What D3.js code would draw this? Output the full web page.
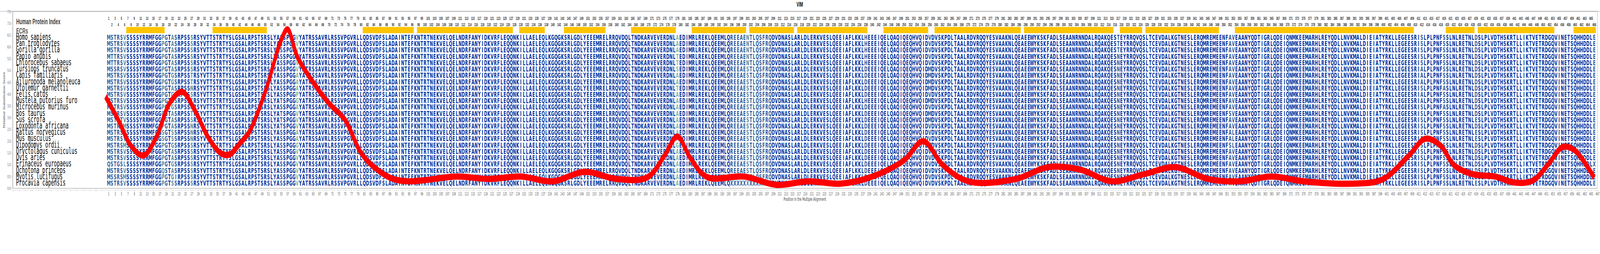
<!DOCTYPE html>
<html><head><meta charset="utf-8">
<script src="https://cdn.jsdelivr.net/npm/d3@7"></script>
<style>html,body{margin:0;padding:0;width:100%;height:100%;background:#fff;overflow:hidden}svg{display:block;width:100vw;height:100vh}</style>
</head><body>
<svg id="chart" viewBox="0 0 7588 650" preserveAspectRatio="none"></svg>
<script>
var species = ["Homo sapiens","Pan troglodytes","Gorilla gorilla","Papio anubis","Chlorocebus sabaeus",
  "Tursiops truncatus","Canis familiaris","Ailuropoda melanoleuca","Otolemur garnettii","Felis catus",
  "Mustela putorius furo","Microcebus murinus","Bos taurus","Sus scrofa","Loxodonta africana",
  "Rattus norvegicus","Mus musculus","Dipodomys ordii","Oryctolagus cuniculus","Ovis aries",
  "Erinaceus europaeus","Ochotona princeps","Myotis lucifugus","Procavia capensis"];

var human = "MSTRSVSSSSYRRMFGGPGTASRPSSSRSYVTTSTRTYSLGSALRPSTSRSLYASSPGGVYATRSSAVRL" +
  "RSSVPGVRLLQDSVDFSLADAINTEFKNTRTNEKVELQELNDRFANYIDKVRFLEQQNKILLAELEQLKG" +
  "QGKSRLGDLYEEEMRELRRQVDQLTNDKARVEVERDNLAEDIMRLREKLQEEMLQREEAENTLQSFRQDV" +
  "DNASLARLDLERKVESLQEEIAFLKKLHEEEIQELQAQIQEQHVQIDVDVSKPDLTAALRDVRQQYESVA" +
  "AKNLQEAEEWYKSKFADLSEAANRNNDALRQAKQESTEYRRQVQSLTCEVDALKGTNESLERQMREMEEN" +
  "FAVEAANYQDTIGRLQDEIQNMKEEMARHLREYQDLLNVKMALDIEIATYRKLLEGEESRISLPLPNFSS" +
  "LNLRETNLDSLPLVDTHSKRTLLIKTVETRDGQVINETSQHHDDLE";

// substitutions: [position, residue, species rows]
var subs = [
  [1,"Q",[20]],[2,"T",[3,4]],[3,"S",[5,22]],[4,"G",[20]],[5,"T",[13]],
  [6,"M",[14,17,22]],[6,"L",[20]],[18,"S",[15,16]],[18,"Q",[21]],[19,"S",[21]],
  [21,"G",[6,7,9,10,11,17,20,22]],[21,"S",[15,16,23]],[22,"I",[22]],
  [27,"T",[6,7,10,12]],[27,"N",[8,11,14,15,16]],
  [55,"S",[8,15,16]],[55,"T",[10,12,13,14]],
  [60,"A",[6,7,8,11,15,16]],[60,"P",[9]],[60,"G",[10,17]],
  [179,"T",[3,4,8]],[179,"S",[5]],[179,"G",[17]],
  [201,"S",[5,6,7,8,9,10,11,12,13,14,15,16,17,18,19,20,21,22,23]],
  [238,"D",[5,6,7,8,9,11,12,13,14,15,16,17,18,19,20,21,22,23]],
  [258,"M",[5,6,7,8,10,12,13,17]],
  [317,"N",[3,4,5,6,7,8,9,10,11,12,13,14,15,16,17,18,19,20,21,22,23]],
  [352,"S",[12,17]],[353,"L",[15,16,17]],
  [412,"A",[5,6,7,9,10]],[419,"A",[8,11,18]],
  [429,"E",[13,15,16,23]],[466,"X",[20]]
];
var gapX = {row: 23, from: 196, to: 208};

// estimated relative substitution score at sampled alignment positions
var scorePos = [0,4,8,12,16,20,24,28,32,36,39,42,45,50,55,57,60,65,70,75,80,85,90,95,100,110,120,130,
  140,150,160,170,175,179,183,188,200,210,220,230,240,250,256,262,270,285,295,305,315,325,335,345,
  355,365,375,390,400,408,413,418,422,428,435,441,447,452,456,460,466];
var scoreVal = [3.9,2.9,1.8,1.4,2.2,3.6,4.1,3.3,2.2,1.5,1.45,1.9,2.4,4.1,6.3,6.75,5.6,4.5,3.6,2.9,1.5,0.8,0.4,
  0.3,0.35,0.5,0.4,0.5,0.3,0.7,0.4,0.5,1.4,2.2,1.3,0.5,0.5,0.15,0.3,0.2,0.5,1.2,2.0,1.0,0.3,0.4,0.9,0.8,
  0.3,0.6,0.9,0.4,0.3,0.5,0.3,0.2,0.4,1.4,2.1,1.8,1.0,0.6,0.5,0.25,0.35,1.1,1.75,1.6,0.45];

var ecrStart = [7,34,81,98,130,144,165,184,202,217,244,260,288,318,326,354,420,430,460];
var ecrEnd   = [18,50,96,127,137,156,178,200,215,238,257,286,315,324,348,409,428,453,466];

var yTicks = d3.range(0, 7.51, 0.5);

// build alignment
var aln = species.map(function(){ return human.split(""); });
subs.forEach(function(s){
  s[2].forEach(function(r){ aln[r][s[0]-1] = s[1]; });
});
for(var p = gapX.from; p <= gapX.to; p++) aln[gapX.row][p-1] = "X";

var svg = d3.select("#chart");
var x = d3.scaleLinear().domain([-29, 467]).range([61, 7576]);
var y = d3.scaleLinear().domain([0, 7.5]).range([482, 30]);
var rowY = d3.scalePoint().domain(species).range([95, 468]);

svg.append("text").attr("x", 3793).attr("y", 17).attr("text-anchor","middle")
  .style("font", "bold 17px 'Liberation Sans', Arial, sans-serif").text("VIM");
svg.append("line").attr("x1", 0).attr("x2", 7588).attr("y1", 29).attr("y2", 29).attr("stroke", "#888");
svg.append("rect").attr("x", 62).attr("y", 29).attr("width", 7514).attr("height", 453)
  .attr("fill", "none").attr("stroke", "#888");

// ECR bars
svg.append("g").selectAll("rect").data(ecrStart).join("rect")
  .attr("x", function(d){ return x(d - 0.5); })
  .attr("width", function(d, i){ return x(ecrEnd[i] + 0.5) - x(d - 0.5); })
  .attr("y", 69).attr("height", 16).attr("fill", "#ffc400");

// top position labels
var positions = d3.range(1, human.length + 1);
svg.append("g").selectAll("text").data(positions).join("text")
  .attr("x", function(d){ return x(d); })
  .attr("y", function(d){ return d % 2 ? 51 : 67; })
  .attr("text-anchor", "middle").attr("fill", "#333")
  .style("font", "bold 11px 'Liberation Sans', Arial, sans-serif")
  .text(function(d){ return d; });

// column colour by number of distinct residues
function colColour(i){
  var n = new Set(aln.map(function(r){ return r[i]; })).size;
  if(n == 1) return "#0033a0";
  if(n == 2) return "#2f5c9c";
  if(n == 3) return "#5a8c9c";
  return "#86b49a";
}
var colours = positions.map(function(p){ return colColour(p-1); });

var rows = svg.append("g").style("font", "bold 18px 'DejaVu Sans', sans-serif");
aln.forEach(function(seq, r){
  rows.append("g").selectAll("text").data(seq).join("text")
    .attr("x", function(d, i){ return x(i + 1); })
    .attr("y", rowY(species[r]) + 7)
    .attr("text-anchor", "middle")
    .attr("fill", function(d, i){ return colours[i]; })
    .text(function(d){ return d; });
});

// species legend
svg.append("text").attr("x", 77).attr("y", 62).attr("fill", "#444")
  .style("font", "bold 21px 'Liberation Sans', Arial, sans-serif").text("Human Protein Index");
svg.append("text").attr("x", 77).attr("y", 86).attr("fill", "#555")
  .style("font", "bold 21px 'Liberation Sans', Arial, sans-serif").text("ECRs");
svg.append("g").selectAll("text").data(species).join("text")
  .attr("x", 76).attr("y", function(d){ return rowY(d) + 7; })
  .style("font", "23px 'DejaVu Sans Mono', monospace")
  .text(function(d){ return d; });

// score curve
var line = d3.line().curve(d3.curveCatmullRom)
  .x(function(d, i){ return x(scorePos[i]); })
  .y(function(d){ return y(d); });
svg.append("path").datum(scoreVal).attr("d", line)
  .attr("fill", "none").attr("stroke", "#ff0000").attr("stroke-width", 16)
  .attr("stroke-linejoin", "round");

// axes
var yAxis = d3.axisLeft(y).tickValues(yTicks).tickFormat(d3.format(".1f")).tickSize(4);
var gy = svg.append("g").attr("transform", "translate(58,0)").call(yAxis);
gy.select(".domain").attr("stroke", "#999");
gy.selectAll("line").attr("stroke", "#999");
gy.selectAll("text").attr("fill", "#555").style("font", "10px 'DejaVu Sans', sans-serif");

var xTicks = d3.range(-29, 468, 2);
var xAxis = d3.axisBottom(x).tickValues(xTicks).tickSize(4)
  .tickFormat(function(d){ return d >= 1 ? d : ""; });
var gx = svg.append("g").attr("transform", "translate(0,486)").call(xAxis);
gx.select(".domain").attr("stroke", "#ccc");
gx.selectAll("line").attr("stroke", "#bbb");
gx.selectAll("text").attr("fill", "#555").style("font", "10px 'DejaVu Sans', sans-serif");

svg.append("text").attr("x", 3817).attr("y", 514).attr("text-anchor", "middle").attr("fill", "#444")
  .style("font", "12px 'DejaVu Sans', sans-serif").text("Position in the Multiple Alignment");
svg.append("text").attr("transform", "translate(24,256) rotate(-90)").attr("text-anchor", "middle")
  .attr("fill", "#444").style("font", "12px 'Liberation Sans', Arial, sans-serif")
  .text("Relative Substitution Score");
</script>
</body></html>
